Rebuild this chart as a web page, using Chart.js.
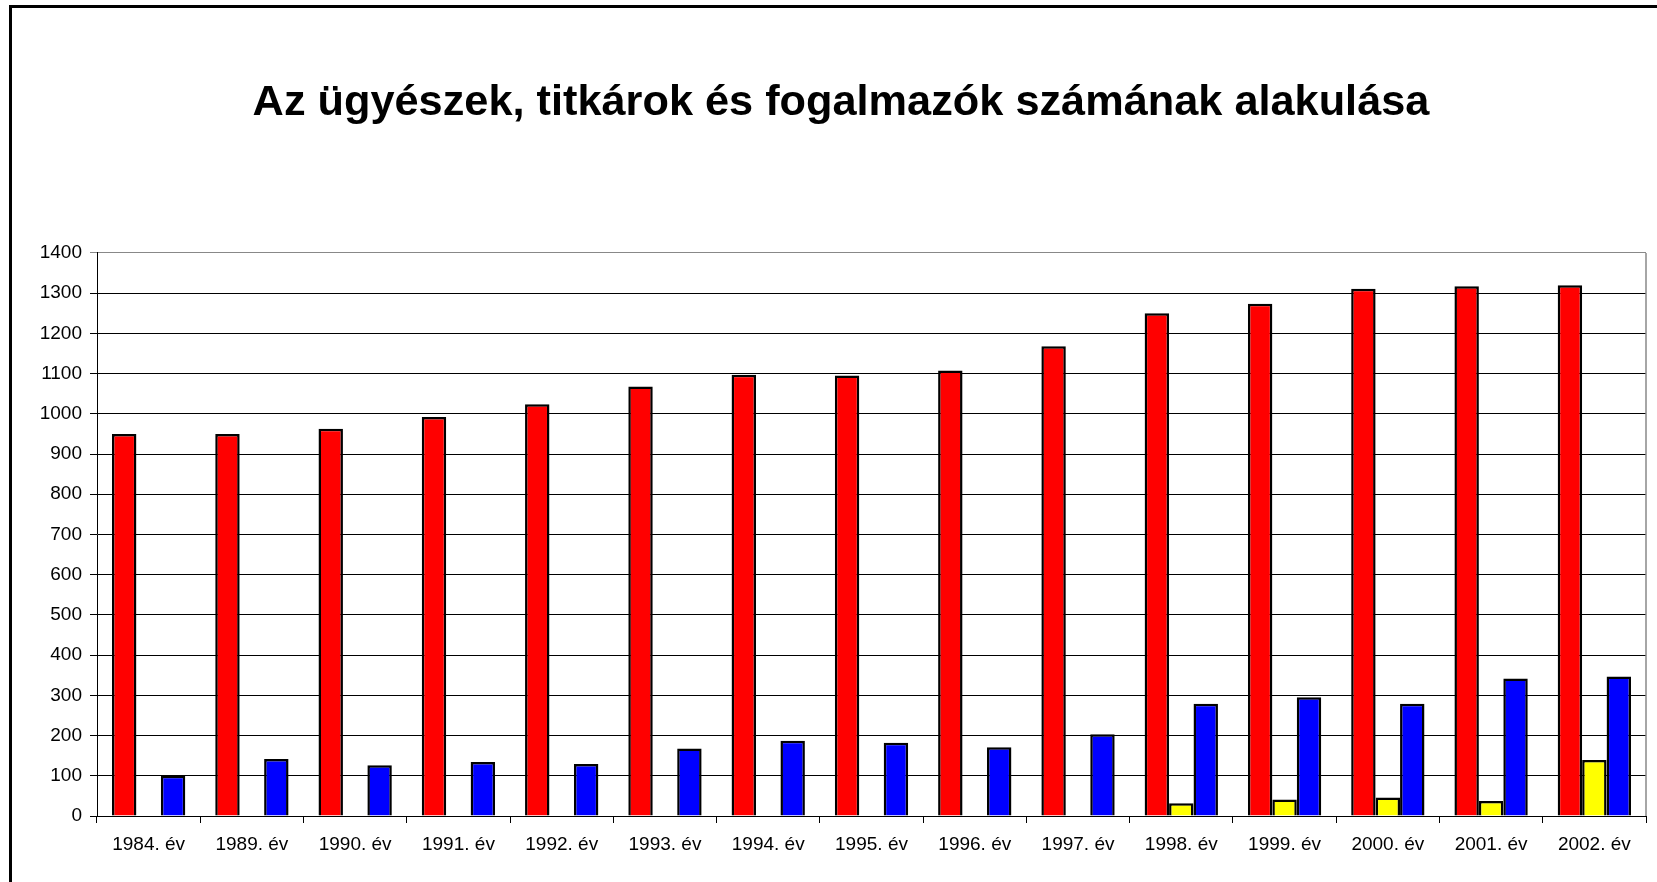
<!DOCTYPE html>
<html>
<head>
<meta charset="utf-8">
<script src="https://cdn.jsdelivr.net/npm/chart.js@4/dist/chart.umd.min.js"></script>
<style>
  body { margin: 0; background: #fff; overflow: hidden; }
  #frame { position: absolute; left: 9px; top: 5px; width: 1700px; height: 920px; border: 3px solid #000; }
  #chart { position: absolute; left: 0; top: 0; }
</style>
</head>
<body>
<div id="frame"></div>
<canvas id="chart" width="1657" height="882"></canvas>
<script>
const years = ["1984. év", "1989. év", "1990. év", "1991. év", "1992. év", "1993. év", "1994. év", "1995. év",
               "1996. év", "1997. év", "1998. év", "1999. év", "2000. év", "2001. év", "2002. év"];
const ugyeszek = [950, 950, 963, 992, 1024, 1068, 1097, 1095, 1108, 1168, 1250, 1274, 1311, 1317, 1320];
const fogalmazok = [null, null, null, null, null, null, null, null, null, null, 32, 41, 46, 37, 139];
const titkarok = [100, 142, 126, 134, 129, 168, 187, 182, 171, 203, 279, 295, 279, 342, 347];
const title = "Az ügyészek, titkárok és fogalmazók számának alakulása";

const font = "'Liberation Sans', Arial, sans-serif";

// grey right edge of the plot area
const rightEdge = {
    id: 'rightEdge',
    afterDraw(chart) {
        const a = chart.chartArea;
        const ctx = chart.ctx;
        ctx.save();
        ctx.strokeStyle = '#888';
        ctx.lineWidth = 1.5;
        ctx.beginPath();
        ctx.moveTo(a.right, a.top);
        ctx.lineTo(a.right, a.bottom);
        ctx.stroke();
        ctx.restore();
    }
};

function bar_set(label, data, color) {
    return {
        label: label,
        data: data,
        backgroundColor: color,
        borderColor: '#000',
        borderWidth: 2.5,
        borderSkipped: 'bottom'
    };
}

new Chart(document.getElementById('chart').getContext('2d'), {
    type: 'bar',
    data: {
        labels: years,
        datasets: [
            bar_set('Ügyészek', ugyeszek, '#ff0000'),
            bar_set('Fogalmazók', fogalmazok, '#ffff00'),
            bar_set('Titkárok', titkarok, '#0000ff')
        ]
    },
    plugins: [rightEdge],
    options: {
        responsive: false,
        animation: false,
        layout: { padding: { left: 36, right: 11, top: 0, bottom: 0 } },
        datasets: { bar: { categoryPercentage: 0.71, barPercentage: 1.0 } },
        plugins: {
            legend: { display: false },
            tooltip: { enabled: false },
            title: {
                display: true,
                text: title,
                color: '#000',
                font: { family: font, size: 43.3, weight: 'bold' },
                padding: { top: 77, bottom: 124 }
            }
        },
        scales: {
            x: {
                grid: { offset: true, drawOnChartArea: false, drawTicks: true, tickLength: 7, color: '#000' },
                border: { color: '#000', width: 1 },
                ticks: { color: '#000', font: { family: font, size: 19 }, padding: 10, maxRotation: 0 },
                afterFit: (scale) => { scale.height = 66; }
            },
            y: {
                min: 0,
                max: 1400,
                ticks: {
                    stepSize: 100,
                    color: '#000',
                    font: { family: font, size: 19 },
                    padding: 8,
                    callback: (v) => String(v)
                },
                grid: {
                    color: (c) => c.tick && c.tick.value === 1400 ? '#888' : '#000',
                    lineWidth: 1,
                    tickLength: 7
                },
                border: { color: '#000', width: 1 },
                afterFit: (scale) => { scale.width = 61; }
            }
        }
    }
});
</script>
</body>
</html>
